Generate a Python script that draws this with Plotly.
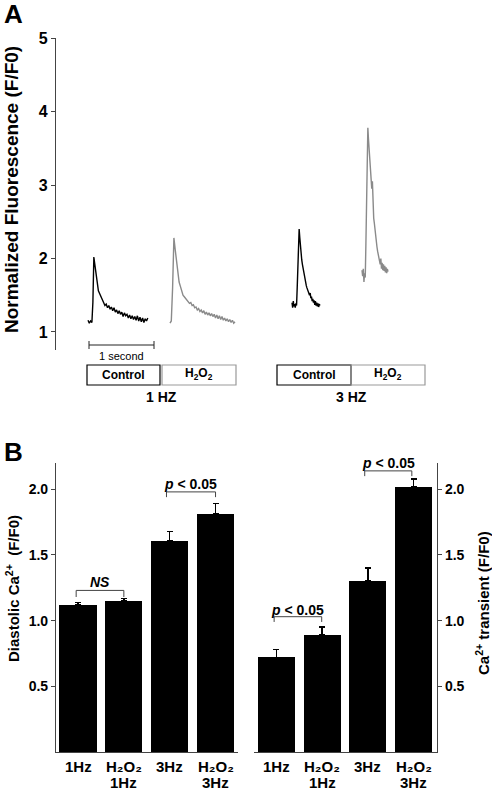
import plotly.graph_objects as go

W, H = 492, 790
def px(x): return x / W
def py(y): return 1 - y / H

FONT = "Arial, Liberation Sans, sans-serif"

# ---------------- Panel A: Ca2+ transient traces (time in s, F/F0) ----------------
t_1hz_ctrl = [0.00, 0.02, 0.04, 0.06, 0.075, 0.09,
              0.10, 0.12, 0.14, 0.16, 0.18, 0.20, 0.22, 0.24, 0.26, 0.28,
              0.30, 0.32, 0.34, 0.36, 0.38, 0.40, 0.42, 0.44, 0.46, 0.48,
              0.50, 0.52, 0.54, 0.56, 0.58, 0.60, 0.62, 0.64, 0.66, 0.68,
              0.70, 0.72, 0.74, 0.76, 0.78, 0.80, 0.82, 0.84, 0.86, 0.88,
              0.90, 0.92]
f_1hz_ctrl = [1.16, 1.12, 1.15, 1.13, 1.40, 2.02,
              1.95, 1.80, 1.66, 1.56, 1.52, 1.47, 1.42, 1.40, 1.36, 1.38,
              1.33, 1.36, 1.31, 1.34, 1.29, 1.33, 1.27, 1.30, 1.25, 1.29,
              1.24, 1.27, 1.21, 1.26, 1.22, 1.24, 1.19, 1.23, 1.18, 1.22,
              1.17, 1.21, 1.16, 1.22, 1.15, 1.20, 1.14, 1.19, 1.13, 1.18,
              1.15, 1.19]

t_1hz_h2o2 = [0.00, 0.02, 0.04, 0.06,
              0.08, 0.10, 0.12, 0.14, 0.16, 0.18, 0.20, 0.22, 0.24, 0.26,
              0.28, 0.30, 0.32, 0.34, 0.36, 0.38, 0.40, 0.42, 0.44, 0.46,
              0.48, 0.50, 0.52, 0.54, 0.56, 0.58, 0.60, 0.62, 0.64, 0.66,
              0.68, 0.70, 0.72, 0.74, 0.76, 0.78, 0.80, 0.82, 0.84, 0.86,
              0.88, 0.90, 0.92, 0.94, 0.96, 0.98, 1.00]
f_1hz_h2o2 = [1.12, 1.15, 1.60, 2.28,
              2.12, 1.95, 1.80, 1.68, 1.62, 1.55, 1.50, 1.48, 1.46, 1.44,
              1.41, 1.39, 1.40, 1.36, 1.37, 1.33, 1.34, 1.30, 1.32, 1.28,
              1.30, 1.26, 1.29, 1.24, 1.27, 1.23, 1.26, 1.22, 1.25, 1.21,
              1.24, 1.19, 1.23, 1.18, 1.22, 1.17, 1.21, 1.16, 1.19, 1.15,
              1.18, 1.14, 1.17, 1.13, 1.16, 1.12, 1.14]

t_3hz_ctrl = [0.00, 0.01, 0.02, 0.03, 0.04, 0.05, 0.06, 0.07, 0.08, 0.09,
              0.10, 0.11, 0.12, 0.13, 0.14, 0.15, 0.16, 0.17, 0.18, 0.19,
              0.20, 0.21, 0.22, 0.23, 0.24, 0.25, 0.26, 0.27, 0.28, 0.29,
              0.30, 0.31, 0.32, 0.33, 0.34, 0.35, 0.36, 0.37, 0.38, 0.39,
              0.40, 0.41, 0.42, 0.43]
f_3hz_ctrl = [1.40, 1.33, 1.42, 1.35, 1.38, 1.33, 1.39, 1.36, 1.60, 1.95,
              2.25, 2.40, 2.28, 2.15, 2.03, 1.98, 1.92, 1.86, 1.80, 1.75,
              1.72, 1.68, 1.63, 1.60, 1.58, 1.55, 1.52, 1.50, 1.53, 1.46,
              1.48, 1.42, 1.45, 1.40, 1.43, 1.37, 1.42, 1.36, 1.40, 1.35,
              1.39, 1.34, 1.38, 1.36]

t_3hz_h2o2 = [0.00, 0.01, 0.02, 0.03, 0.04, 0.05, 0.06, 0.07, 0.08, 0.09,
              0.10, 0.11, 0.12, 0.13, 0.14, 0.15, 0.16, 0.17, 0.18, 0.19,
              0.20, 0.21, 0.22, 0.23, 0.24, 0.25, 0.26, 0.27, 0.28, 0.29,
              0.30, 0.31, 0.32, 0.33, 0.34, 0.35, 0.36, 0.37, 0.38, 0.39,
              0.40]
f_3hz_h2o2 = [1.84, 1.76, 1.86, 1.68, 1.80, 1.74, 2.20, 2.90, 3.50, 3.78,
              3.62, 3.45, 3.38, 3.22, 3.08, 2.95, 3.05, 2.72, 2.55, 2.48,
              2.38, 2.30, 2.22, 2.16, 2.10, 2.05, 2.00, 1.96, 1.92, 2.00,
              1.86, 1.94, 1.84, 1.92, 1.83, 1.90, 1.81, 1.88, 1.80, 1.86,
              1.82]

a_yticks = [1, 2, 3, 4, 5]

# ---------------- Panel B: bar data ----------------
bar_label_line1 = ["1Hz", "H₂O₂", "3Hz", "H₂O₂"]
bar_label_line2 = ["", "1Hz", "", "3Hz"]
diastolic_mean = [1.12, 1.15, 1.61, 1.81]
diastolic_err = [0.02, 0.02, 0.07, 0.08]
transient_mean = [0.72, 0.89, 1.30, 2.02]
transient_err = [0.06, 0.06, 0.10, 0.06]
b_yticks = [0.5, 1.0, 1.5, 2.0]
b_yticklabels = ["0.5", "1.0", "1.5", "2.0"]

# ---------------- layout constants ----------------
PX_PER_S = 65.0
A_X0 = 56  # pixel of time origin (axis line)
def trace_offset(px_start):
    return (px_start - A_X0) / PX_PER_S

offsets = {"1c": trace_offset(88), "1h": trace_offset(170), "3c": trace_offset(292), "3h": trace_offset(362)}

for a, b in [(t_1hz_ctrl, f_1hz_ctrl), (t_1hz_h2o2, f_1hz_h2o2), (t_3hz_ctrl, f_3hz_ctrl), (t_3hz_h2o2, f_3hz_h2o2)]:
    assert len(a) == len(b)

fig = go.Figure()
BLACK = "#000000"
GRAY = "#8a8a8a"
for t, f, key, col in [(t_1hz_ctrl, f_1hz_ctrl, "1c", BLACK), (t_1hz_h2o2, f_1hz_h2o2, "1h", GRAY),
                       (t_3hz_ctrl, f_3hz_ctrl, "3c", BLACK), (t_3hz_h2o2, f_3hz_h2o2, "3h", GRAY)]:
    fig.add_trace(go.Scatter(x=[v + offsets[key] for v in t], y=f, mode="lines",
                             line=dict(color=col, width=1.4), xaxis="x", yaxis="y",
                             showlegend=False, hoverinfo="skip"))

bar_x = [0, 1, 2, 3]
fig.add_trace(go.Bar(x=bar_x, y=diastolic_mean, width=0.81, marker=dict(color="black", line=dict(width=0)),
                     error_y=dict(type="data", array=diastolic_err, symmetric=False, arrayminus=[0, 0, 0, 0],
                                  color="black", thickness=1.5, width=3),
                     xaxis="x2", yaxis="y2", showlegend=False))
fig.add_trace(go.Bar(x=bar_x, y=transient_mean, width=0.81, marker=dict(color="black", line=dict(width=0)),
                     error_y=dict(type="data", array=transient_err, symmetric=False, arrayminus=[0, 0, 0, 0],
                                  color="black", thickness=1.5, width=3),
                     xaxis="x3", yaxis="y3", showlegend=False))

tickfont = dict(family=FONT, size=14, color="black", weight="bold")
AX_COL = "#444444"

fig.update_layout(
    width=W, height=H, margin=dict(l=0, r=0, t=0, b=0),
    paper_bgcolor="white", plot_bgcolor="rgba(0,0,0,0)",
    font=dict(family=FONT, color="black"),
    bargap=0,
    xaxis=dict(domain=[px(56), px(440)], range=[0, (440 - 56) / PX_PER_S], visible=False, fixedrange=True),
    yaxis=dict(domain=[py(350), py(38)], range=[0.755, 5], tickvals=a_yticks,
               showline=True, linecolor=AX_COL, linewidth=1.2, ticks="outside", ticklen=4,
               tickcolor=AX_COL, tickfont=dict(family=FONT, size=16, color="black", weight="bold"),
               showgrid=False, zeroline=False, anchor="x", automargin=False),
    xaxis2=dict(domain=[px(56), px(238)], range=[-0.48, 3.49], showticklabels=False,
                showline=True, linecolor=AX_COL, linewidth=1.2, ticks="",
                showgrid=False, zeroline=False, anchor="y2", automargin=False),
    yaxis2=dict(domain=[py(752), py(463)], range=[0, 2.2], tickvals=b_yticks, ticktext=b_yticklabels,
                showline=True, linecolor=AX_COL, linewidth=1.2, ticks="outside", ticklen=4,
                tickcolor=AX_COL, tickfont=tickfont, showgrid=False, zeroline=False,
                anchor="x2", automargin=False),
    xaxis3=dict(domain=[px(254), px(437)], range=[-0.49, 3.51], showticklabels=False,
                showline=True, linecolor=AX_COL, linewidth=1.2, ticks="",
                showgrid=False, zeroline=False, anchor="y3", automargin=False),
    yaxis3=dict(domain=[py(752), py(463)], range=[0, 2.2], tickvals=b_yticks, ticktext=b_yticklabels,
                side="right", showline=True, linecolor=AX_COL, linewidth=1.2, ticks="outside", ticklen=4,
                tickcolor=AX_COL, tickfont=tickfont, showgrid=False, zeroline=False,
                anchor="x3", automargin=False),
)

shapes = []
# Scale bar: 1 second in data units of panel A
sb_x0 = trace_offset(89)
shapes.append(dict(type="line", xref="x", yref="paper", x0=sb_x0, x1=sb_x0 + 1.0, y0=py(345), y1=py(345),
                   line=dict(color="#222", width=1)))
for xx in (sb_x0, sb_x0 + 1.0):
    shapes.append(dict(type="line", xref="x", yref="paper", x0=xx, x1=xx, y0=py(341), y1=py(349),
                       line=dict(color="#222", width=1)))
# condition boxes
for x0, x1, col in [(87, 160, "#000"), (162, 236, "#999"), (277, 351, "#000"), (351, 425, "#999")]:
    shapes.append(dict(type="rect", xref="paper", yref="paper", x0=px(x0), x1=px(x1), y0=py(385), y1=py(365),
                       line=dict(color=col, width=1.2), fillcolor="rgba(0,0,0,0)"))

# significance brackets (data coords)
def bracket(xr, yr, xa, xb, ytop, ybot):
    return dict(type="path", xref=xr, yref=yr,
                path=f"M {xa},{ybot} L {xa},{ytop} L {xb},{ytop} L {xb},{ybot}",
                line=dict(color="#444", width=1))
shapes.append(bracket("x2", "y2", -0.04, 1.0, 1.23, 1.18))
shapes.append(bracket("x2", "y2", 1.93, 3.0, 1.98, 1.94))
shapes.append(bracket("x3", "y3", -0.05, 0.99, 1.03, 0.99))
shapes.append(bracket("x3", "y3", 1.93, 2.96, 2.14, 2.10))
fig.update_layout(shapes=shapes)

ann = []
def A(text, x, y, size, bold=True, angle=0, xanchor="center", italic=False, color="black", xref="paper", yref="paper"):
    t = text
    if italic:
        t = f"<i>{t}</i>"
    if bold:
        t = f"<b>{t}</b>"
    ann.append(dict(text=t, x=x, y=y, xref=xref, yref=yref, showarrow=False, textangle=angle,
                    xanchor=xanchor, yanchor="middle", font=dict(family=FONT, size=size, color=color)))

A("A", px(2), py(14), 26, xanchor="left")
A("B", px(2), py(452), 26, xanchor="left")
A("Normalized Fluorescence (F/F0)", px(12), py(190), 19, angle=-90)
A("1 second", px(121), py(356), 11, bold=False)
A("Control", px(123.5), py(375), 12)
A("H<sub>2</sub>O<sub>2</sub>", px(199), py(374), 12)
A("Control", px(314), py(375), 12)
A("H<sub>2</sub>O<sub>2</sub>", px(388), py(374), 12)
A("1 HZ", px(161), py(397), 14)
A("3 HZ", px(351), py(397), 14)
A("Diastolic Ca<sup>2+</sup>  (F/F0)", px(12), py(589), 15, angle=-90)
A("Ca<sup>2+</sup> transient (F/F0)", px(482), py(603), 15, angle=-90)
A("NS", 0.48, (752 - 582) / 131, 14, italic=True, xref="x2", yref="y2")
A("<i>p</i> < 0.05", 2.46, (752 - 485) / 131, 14, xref="x2", yref="y2")
A("<i>p</i> < 0.05", 0.47, (752 - 610) / 131, 14, xref="x3", yref="y3")
A("<i>p</i> < 0.05", 2.44, (752 - 464) / 131, 14, xref="x3", yref="y3")
# category labels under bars
for xr in ("x2", "x3"):
    for i in bar_x:
        A(bar_label_line1[i], i, py(766), 15, xref=xr)
        if bar_label_line2[i]:
            A(bar_label_line2[i], i, py(782), 15, xref=xr)
fig.update_layout(annotations=ann)

fig.write_html("out.html", config={"displayModeBar": False},
               post_script="document.body.style.margin='0px';document.body.style.overflow='hidden';")
